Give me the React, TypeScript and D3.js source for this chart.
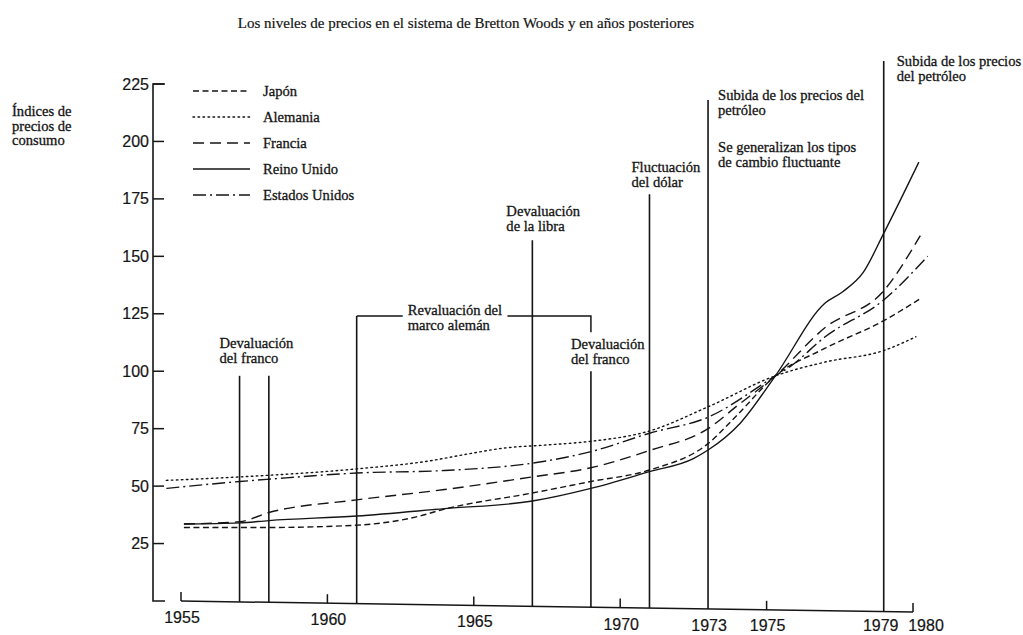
import React from "react";
import * as d3 from "d3";

const title = "Los niveles de precios en el sistema de Bretton Woods y en años posteriores";
const yAxisTitle = ["Índices de", "precios de", "consumo"];
const yTicks = [25, 50, 75, 100, 125, 150, 175, 200, 225];
const xTickYears = [1955, 1960, 1965, 1970, 1975, 1980];
const xLabelYears = [1955, 1960, 1965, 1970, 1973, 1975, 1979, 1980];

const japanYears = [1955.1, 1957, 1958, 1961, 1963, 1964, 1967, 1969, 1971, 1973, 1974, 1975.3, 1977, 1979, 1980.3];
const japanValues = [32, 32, 32, 33, 36.5, 40, 47, 52, 57, 68.5, 81, 98, 110, 122, 132];

const alemaniaYears = [1954.5, 1957, 1961, 1963.5, 1964.8, 1966, 1967.6, 1969, 1971, 1973, 1975.3, 1977, 1979, 1980.1];
const alemaniaValues = [52.5, 54, 57.5, 61, 64, 66.5, 68, 69.5, 74, 84.5, 98, 104, 109, 115];

const franciaYears = [1955.1, 1957, 1958, 1961, 1964, 1967, 1969, 1971, 1973, 1974, 1975.3, 1977, 1979, 1980.25];
const franciaValues = [33.5, 34.5, 38.5, 44, 48.5, 54, 58, 65.5, 75, 85, 98, 119, 135, 159];

const reinoYears = [1955.1, 1957, 1958, 1961, 1964, 1967, 1969, 1971, 1972.5, 1973, 1974.1, 1975.3, 1977, 1977.6, 1978.3, 1979, 1980.2];
const reinoValues = [33.5, 34, 35, 37, 40.2, 43.5, 49, 56.3, 62, 65.7, 77.4, 98, 129.7, 134.6, 143, 160, 191];

const eeuuYears = [1954.5, 1957, 1958, 1961, 1964, 1967, 1969, 1971, 1973, 1975.3, 1975.8, 1977, 1979, 1980.5];
const eeuuValues = [49, 52, 53, 55.7, 56.8, 60, 65, 73, 80, 98, 102, 115, 131, 150];

const seriesNames = ["Japón", "Alemania", "Francia", "Reino Unido", "Estados Unidos"];
const seriesYears = [japanYears, alemaniaYears, franciaYears, reinoYears, eeuuYears];
const seriesValues = [japanValues, alemaniaValues, franciaValues, reinoValues, eeuuValues];
const seriesDash = ["6,3.5", "1.6,3.4", "11,6", "none", "13,4,2,4"];

const eventYears = [1957, 1958, 1961, 1967, 1969, 1971, 1973, 1979];
const eventTops = [98, 98, 124, 157, 100, 177, 218, 235];
const bracketFrom = 1961;
const bracketTo = 1969;
const bracketLevel = 124;
const bracketDrop = 117;

const annotationYears = [1957, 1961, 1967, 1969, 1971, 1973, 1973, 1979];
const annotationTexts = [
  ["Devaluación", "del franco"],
  ["Revaluación del", "marco alemán"],
  ["Devaluación", "de la libra"],
  ["Devaluación", "del franco"],
  ["Fluctuación", "del dólar"],
  ["Subida de los precios del", "petróleo"],
  ["Se generalizan los tipos", "de cambio fluctuante"],
  ["Subida de los precios", "del petróleo"],
];
// layout: horizontal offset from the event line and first baseline
const annotationLayout = [
  { dx: -20, y: 348 },
  { dx: 51, y: 315 },
  { dx: -26, y: 216 },
  { dx: -20, y: 349 },
  { dx: -18, y: 172 },
  { dx: 10, y: 100 },
  { dx: 10, y: 152 },
  { dx: 13, y: 66 },
];

const W = 1023;
const H = 635;
const serif = "'Liberation Serif', 'Times New Roman', serif";
const sans = "'Liberation Sans', Arial, sans-serif";
const ink = "#151515";
const fs = 14.6;

export default function App() {
  const x = d3.scaleLinear().domain([1955, 1980]).range([181, 913]);
  const y = d3.scaleLinear().domain([0, 225]).range([601, 84]);
  const slope = 11 / 732;
  const axisY = (px: number) => y(0) + (px - x(1955)) * slope;
  const axisX = 153;

  const line = d3
    .line<[number, number]>()
    .x((d) => x(d[0]))
    .y((d) => y(d[1]))
    .curve(d3.curveMonotoneX);

  const legendX0 = 193;
  const legendX1 = 250;
  const legendY0 = 91;
  const legendStep = 26;

  const renderAnno = (mask: boolean) =>
    annotationTexts.map((lines, i) => {
      const lay = annotationLayout[i];
      if (mask && i !== 1) return null;
      const ax = x(annotationYears[i]) + lay.dx;
      return (
        <text
          key={`${mask ? "m" : "t"}${i}`}
          x={ax}
          y={lay.y}
          fontFamily={serif}
          fontSize={fs}
          fill={mask ? "#fff" : ink}
          stroke={mask ? "#fff" : ink}
          strokeWidth={mask ? 11 : 0.3}
        >
          {lines.map((l, k) => (
            <tspan key={k} x={ax} dy={k === 0 ? 0 : 14.5}>
              {l}
            </tspan>
          ))}
        </text>
      );
    });

  return (
    <svg
      width={W}
      height={H}
      viewBox={`0 0 ${W} ${H}`}
      style={{ position: "absolute", left: 0, top: 0, background: "#fff" }}
    >
      <rect x={0} y={0} width={W} height={H} fill="#fff" />
      <text x={466} y={28} textAnchor="middle" fontFamily={serif} fontSize={15} fill={ink} stroke={ink} strokeWidth={0.2}>
        {title}
      </text>

      {/* y-axis title */}
      {yAxisTitle.map((t, i) => (
        <text key={t} x={12} y={116 + i * 14.5} fontFamily={serif} fontSize={fs} fill={ink} stroke={ink} strokeWidth={0.3}>
          {t}
        </text>
      ))}

      {/* y axis */}
      <path
        d={`M${axisX + 12},${y(225)}H${axisX}V${y(0)}H${axisX + 12}`}
        fill="none"
        stroke={ink}
        strokeWidth={1.6}
      />
      {yTicks.map((t) => (
        <g key={t}>
          <line x1={axisX} x2={axisX + 11} y1={y(t)} y2={y(t)} stroke={ink} strokeWidth={1.5} />
          <text x={149} y={y(t) + 5.5} textAnchor="end" fontFamily={sans} fontSize={16} fill={ink} stroke={ink} strokeWidth={0.2}>
            {t}
          </text>
        </g>
      ))}

      {/* x axis */}
      <line
        x1={x(1955)}
        x2={x(1980)}
        y1={axisY(x(1955))}
        y2={axisY(x(1980))}
        stroke={ink}
        strokeWidth={1.5}
      />
      {xTickYears.map((t) => (
        <line
          key={t}
          x1={x(t)}
          x2={x(t)}
          y1={axisY(x(t))}
          y2={axisY(x(t)) - 9}
          stroke={ink}
          strokeWidth={1.5}
        />
      ))}
      {xLabelYears.map((t) => {
        const dx = t === 1980 ? 13 : t === 1979 ? -3 : 1;
        return (
          <text
            key={t}
            x={x(t) + dx}
            y={Math.min(axisY(x(t)) + 22, 631)}
            textAnchor="middle"
            fontFamily={sans}
            fontSize={16}
            fill={ink}
            stroke={ink}
            strokeWidth={0.2}
          >
            {t}
          </text>
        );
      })}

      {/* event lines */}
      {eventYears.map((ev, i) => (
        <line
          key={ev}
          x1={x(ev)}
          x2={x(ev)}
          y1={axisY(x(ev))}
          y2={y(eventTops[i])}
          stroke={ink}
          strokeWidth={1.6}
        />
      ))}
      <path
        d={`M${x(bracketFrom)},${y(bracketLevel)}H${x(bracketTo)}V${y(bracketDrop)}`}
        fill="none"
        stroke={ink}
        strokeWidth={1.5}
      />

      {/* series */}
      {seriesNames.map((name, i) => {
        const pts = seriesYears[i].map((yr, j) => [yr, seriesValues[i][j]] as [number, number]);
        return (
          <path
            key={name}
            d={line(pts) || ""}
            fill="none"
            stroke={ink}
            strokeWidth={1.4}
            strokeDasharray={seriesDash[i]}
            strokeLinecap={i === 1 ? "round" : "butt"}
          />
        );
      })}

      {/* annotations */}
      {renderAnno(true)}
      {renderAnno(false)}

      {/* legend */}
      {seriesNames.map((name, i) => {
        const ly = legendY0 + i * legendStep;
        return (
          <g key={name}>
            <line
              x1={legendX0}
              x2={legendX1}
              y1={ly}
              y2={ly}
              stroke={ink}
              strokeWidth={1.4}
              strokeDasharray={seriesDash[i]}
              strokeLinecap={i === 1 ? "round" : "butt"}
            />
            <text x={263} y={ly + 5} fontFamily={serif} fontSize={fs} fill={ink} stroke={ink} strokeWidth={0.3}>
              {name}
            </text>
          </g>
        );
      })}
    </svg>
  );
}
